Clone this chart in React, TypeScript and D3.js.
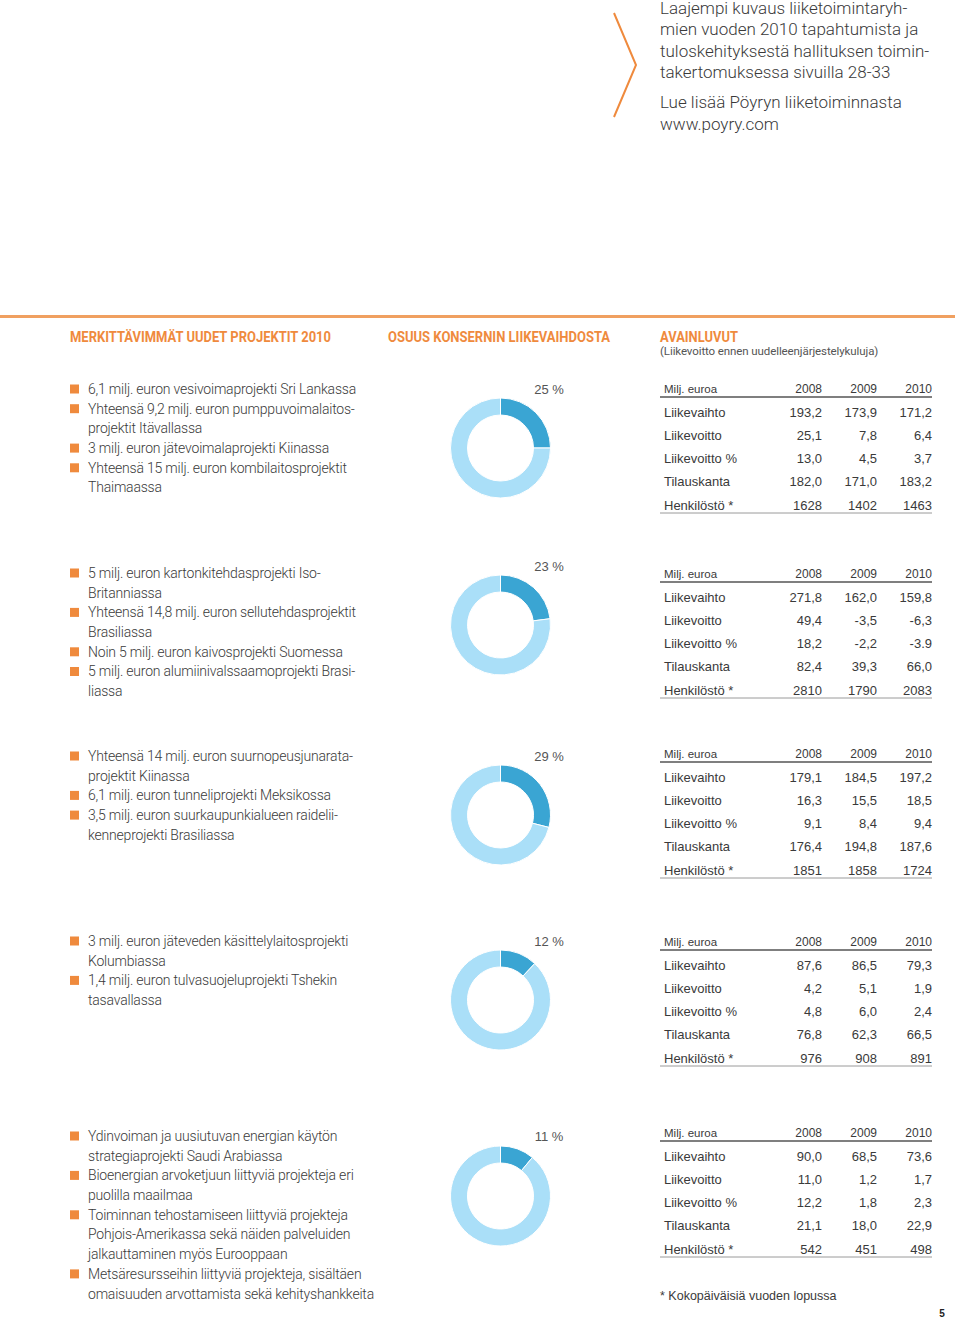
import React from "react";
import * as d3 from "d3";

const introLines = [
  "Laajempi kuvaus liiketoimintaryh-",
  "mien vuoden 2010 tapahtumista ja",
  "tuloskehityksestä hallituksen toimin-",
  "takertomuksessa sivuilla 28-33",
];
const linkLines = ["Lue lisää Pöyryn liiketoiminnasta", "www.poyry.com"];

const headers = [
  "MERKITTÄVIMMÄT UUDET PROJEKTIT 2010",
  "OSUUS KONSERNIN LIIKEVAIHDOSTA",
  "AVAINLUVUT",
];
const subHeader = "(Liikevoitto ennen uudelleenjärjestelykuluja)";

const years = ["2008", "2009", "2010"];
const rowLabels = ["Liikevaihto", "Liikevoitto", "Liikevoitto %", "Tilauskanta", "Henkilöstö *"];

const shares = [25, 23, 29, 12, 11];

const bullets1 = [
  ["6,1 milj. euron vesivoimaprojekti Sri Lankassa"],
  ["Yhteensä 9,2 milj. euron pumppuvoimalaitos-", "projektit Itävallassa"],
  ["3 milj. euron jätevoimalaprojekti Kiinassa"],
  ["Yhteensä 15 milj. euron kombilaitosprojektit", "Thaimaassa"],
];
const bullets2 = [
  ["5 milj. euron kartonkitehdasprojekti Iso-", "Britanniassa"],
  ["Yhteensä 14,8 milj. euron sellutehdasprojektit", "Brasiliassa"],
  ["Noin 5 milj. euron kaivosprojekti Suomessa"],
  ["5 milj. euron alumiinivalssaamoprojekti Brasi-", "liassa"],
];
const bullets3 = [
  ["Yhteensä 14 milj. euron suurnopeusjunarata-", "projektit Kiinassa"],
  ["6,1 milj. euron tunneliprojekti Meksikossa"],
  ["3,5 milj. euron suurkaupunkialueen raidelii-", "kenneprojekti Brasiliassa"],
];
const bullets4 = [
  ["3 milj. euron jäteveden käsittelylaitosprojekti", "Kolumbiassa"],
  ["1,4 milj. euron tulvasuojeluprojekti Tshekin", "tasavallassa"],
];
const bullets5 = [
  ["Ydinvoiman ja uusiutuvan energian käytön", "strategiaprojekti Saudi Arabiassa"],
  ["Bioenergian arvoketjuun liittyviä projekteja eri", "puolilla maailmaa"],
  ["Toiminnan tehostamiseen liittyviä projekteja", "Pohjois-Amerikassa sekä näiden palveluiden", "jalkauttaminen myös Eurooppaan"],
  ["Metsäresursseihin liittyviä projekteja, sisältäen", "omaisuuden arvottamista sekä kehityshankkeita"],
];

const table1 = [["193,2", "173,9", "171,2"], ["25,1", "7,8", "6,4"], ["13,0", "4,5", "3,7"], ["182,0", "171,0", "183,2"], ["1628", "1402", "1463"]];
const table2 = [["271,8", "162,0", "159,8"], ["49,4", "-3,5", "-6,3"], ["18,2", "-2,2", "-3.9"], ["82,4", "39,3", "66,0"], ["2810", "1790", "2083"]];
const table3 = [["179,1", "184,5", "197,2"], ["16,3", "15,5", "18,5"], ["9,1", "8,4", "9,4"], ["176,4", "194,8", "187,6"], ["1851", "1858", "1724"]];
const table4 = [["87,6", "86,5", "79,3"], ["4,2", "5,1", "1,9"], ["4,8", "6,0", "2,4"], ["76,8", "62,3", "66,5"], ["976", "908", "891"]];
const table5 = [["90,0", "68,5", "73,6"], ["11,0", "1,2", "1,7"], ["12,2", "1,8", "2,3"], ["21,1", "18,0", "22,9"], ["542", "451", "498"]];

const footnote = "* Kokopäiväisiä vuoden lopussa";
const pageNumber = "5";

const bulletSets = [bullets1, bullets2, bullets3, bullets4, bullets5];
const tables = [table1, table2, table3, table4, table5];

// layout (positions only)
const layout = [
  { text: 389, donut: 448, label: 389, table: 389 },
  { text: 573, donut: 625, label: 566, table: 574 },
  { text: 756, donut: 815, label: 756, table: 754 },
  { text: 941, donut: 1000, label: 941, table: 942 },
  { text: 1136, donut: 1196, label: 1136, table: 1133 },
];

const ORANGE = "#ef8a3d";
const DARK = "#3aa5d3";
const LIGHT = "#aadff8";
const TXT = "#3a3a3a";
const BODY = "Roboto, 'Liberation Sans', sans-serif";
const REG = "'Liberation Sans', Arial, sans-serif";

const colX = d3.scalePoint<string>().domain(years).range([822, 932]);
const rowY = d3.scaleLinear().domain([0, 4]).range([23, 116]);
const lineH = 19.7;

function Donut({ cx, cy, share }: { cx: number; cy: number; share: number }) {
  const pie = d3.pie<number>().sort(null).value((d) => d);
  const arc = d3.arc<d3.PieArcDatum<number>>().innerRadius(33).outerRadius(50);
  const arcs = pie([share, 100 - share]);
  return (
    <g transform={`translate(${cx},${cy})`}>
      {arcs.map((a, i) => (
        <path key={i} d={arc(a) || ""} fill={i === 0 ? DARK : LIGHT} stroke="#fff" strokeWidth={1} />
      ))}
    </g>
  );
}

function Bullets({ y0, items }: { y0: number; items: string[][] }) {
  let line = 0;
  const out: React.ReactNode[] = [];
  items.forEach((item, i) => {
    const y = y0 + line * lineH;
    out.push(<rect key={"b" + i} x={70} y={y - 4.5} width={9} height={9} fill={ORANGE} />);
    item.forEach((t, j) => {
      out.push(
        <text key={i + "-" + j} x={88} y={y + j * lineH} dy="0.35em" fontFamily={BODY} fontWeight={300} fontSize={14} letterSpacing={-0.2} fill={TXT}>
          {t}
        </text>
      );
    });
    line += item.length;
  });
  return <g>{out}</g>;
}

function Table({ y0, data }: { y0: number; data: string[][] }) {
  return (
    <g fontFamily={REG} fill={TXT}>
      <text x={664} y={y0} dy="0.35em" fontSize={11.5}>Milj. euroa</text>
      {years.map((yr) => (
        <text key={yr} x={colX(yr)} y={y0} dy="0.35em" fontSize={12} textAnchor="end">{yr}</text>
      ))}
      <line x1={660} x2={932} y1={y0 + 8} y2={y0 + 8} stroke="#555" strokeWidth={1.3} />
      {rowLabels.map((lab, r) => (
        <g key={lab}>
          <text x={664} y={y0 + rowY(r)} dy="0.35em" fontSize={13}>{lab}</text>
          {years.map((yr, c) => (
            <text key={yr} x={colX(yr)} y={y0 + rowY(r)} dy="0.35em" fontSize={13} textAnchor="end">{data[r][c]}</text>
          ))}
        </g>
      ))}
      <line x1={660} x2={932} y1={y0 + 124} y2={y0 + 124} stroke="#9a9a9a" strokeWidth={1} />
    </g>
  );
}

export default function App() {
  return (
    <svg width={960} height={1319} style={{ position: "absolute", left: 0, top: 0, background: "#fff" }}>
      <polyline points="614,13 636,65 614,117" fill="none" stroke={ORANGE} strokeWidth={2} />
      {introLines.map((t, i) => (
        <text key={t} x={660} y={8 + i * 21.5} dy="0.35em" fontFamily={BODY} fontWeight={300} fontSize={17} letterSpacing={0} fill={TXT}>{t}</text>
      ))}
      {linkLines.map((t, i) => (
        <text key={t} x={660} y={102 + i * 22} dy="0.35em" fontFamily={BODY} fontWeight={300} fontSize={17} letterSpacing={0} fill={TXT}>{t}</text>
      ))}

      <rect x={0} y={315} width={955} height={3} fill="#f0a060" />
      <text x={70} y={337} dy="0.35em" fontFamily={BODY} fontWeight="bold" fontSize={14} fill={ORANGE} textLength={261} lengthAdjust="spacingAndGlyphs">{headers[0]}</text>
      <text x={388} y={337} dy="0.35em" fontFamily={BODY} fontWeight="bold" fontSize={14} fill={ORANGE} textLength={222} lengthAdjust="spacingAndGlyphs">{headers[1]}</text>
      <text x={660} y={337} dy="0.35em" fontFamily={BODY} fontWeight="bold" fontSize={14} fill={ORANGE} textLength={78} lengthAdjust="spacingAndGlyphs">{headers[2]}</text>
      <text x={660} y={351} dy="0.35em" fontFamily={BODY} fontSize={11.5} fill="#555" letterSpacing={-0.1}>{subHeader}</text>

      {layout.map((L, s) => (
        <g key={s}>
          <Bullets y0={L.text} items={bulletSets[s]} />
          <Donut cx={500.5} cy={L.donut} share={shares[s]} />
          <text x={549} y={L.label} dy="0.35em" textAnchor="middle" fontFamily={REG} fontSize={13} fill="#555">{shares[s]} %</text>
          <Table y0={L.table} data={tables[s]} />
        </g>
      ))}

      <text x={660} y={1296} dy="0.35em" fontFamily={REG} fontSize={12.5} fill={TXT}>{footnote}</text>
      <text x={942} y={1313} dy="0.35em" textAnchor="middle" fontFamily={REG} fontWeight="bold" fontSize={10} fill="#222">{pageNumber}</text>
    </svg>
  );
}
